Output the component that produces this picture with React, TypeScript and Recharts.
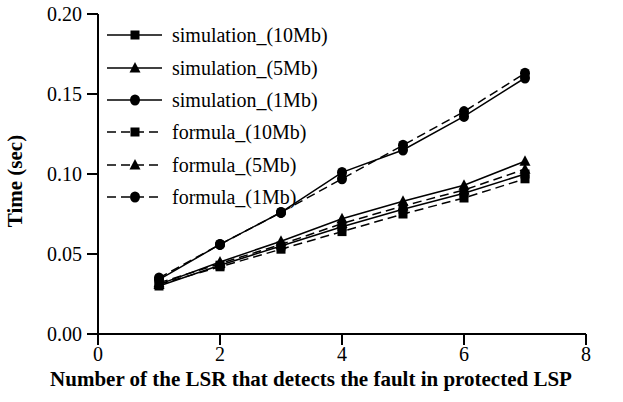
import React from "react";
import { LineChart, Line, XAxis, YAxis } from "recharts";

// x positions: number of the LSR that detects the fault
const lsr = [1, 2, 3, 4, 5, 6, 7];

// detection time (sec)
const sim10 = [0.030, 0.043, 0.055, 0.067, 0.078, 0.088, 0.100];
const sim5 = [0.031, 0.045, 0.058, 0.072, 0.083, 0.093, 0.108];
const sim1 = [0.034, 0.056, 0.076, 0.101, 0.115, 0.136, 0.160];
const form10 = [0.031, 0.042, 0.053, 0.064, 0.075, 0.085, 0.097];
const form5 = [0.032, 0.044, 0.056, 0.069, 0.080, 0.090, 0.103];
const form1 = [0.035, 0.056, 0.076, 0.097, 0.118, 0.139, 0.163];

const xMajor = [0, 2, 4, 6, 8];
const xMinor = [1, 3, 5, 7];
const yMajor = [0, 0.05, 0.1, 0.15, 0.2];
const yMinor = [
  0.01, 0.02, 0.03, 0.04, 0.06, 0.07, 0.08, 0.09,
  0.11, 0.12, 0.13, 0.14, 0.16, 0.17, 0.18, 0.19,
];

type Shape = "square" | "triangle" | "circle";

const series: Array<{ key: string; name: string; values: number[]; shape: Shape; dashed: boolean }> = [
  { key: "sim10", name: "simulation_(10Mb)", values: sim10, shape: "square", dashed: false },
  { key: "sim5", name: "simulation_(5Mb)", values: sim5, shape: "triangle", dashed: false },
  { key: "sim1", name: "simulation_(1Mb)", values: sim1, shape: "circle", dashed: false },
  { key: "form10", name: "formula_(10Mb)", values: form10, shape: "square", dashed: true },
  { key: "form5", name: "formula_(5Mb)", values: form5, shape: "triangle", dashed: true },
  { key: "form1", name: "formula_(1Mb)", values: form1, shape: "circle", dashed: true },
];

const data = lsr.map((x, i) => {
  const row: Record<string, number> = { x };
  series.forEach((s) => (row[s.key] = s.values[i]));
  return row;
});

const FONT = "Liberation Serif";
const DASH = "9 5";
const black2 = { stroke: "#000", strokeWidth: 2 };

function Marker({ shape, cx, cy }: { shape: Shape; cx: number; cy: number }) {
  if (shape === "square") return <rect x={cx - 4.5} y={cy - 4.5} width={9} height={9} fill="#000" />;
  if (shape === "triangle")
    return <polygon points={`${cx},${cy - 6} ${cx - 5.5},${cy + 4.5} ${cx + 5.5},${cy + 4.5}`} fill="#000" />;
  return <ellipse cx={cx} cy={cy} rx={5} ry={5.5} fill="#000" />;
}

const dotFor = (shape: Shape) => (props: any) => {
  const { cx, cy, index } = props;
  return <Marker key={index} shape={shape} cx={cx} cy={cy} />;
};

function LegendBox() {
  return (
    <div style={{ position: "absolute", top: 19, left: 105, fontFamily: FONT, fontSize: 20, color: "#000" }}>
      {series.map((s) => (
        <div key={s.key} style={{ height: 32.4, display: "flex", alignItems: "center" }}>
          <svg width={60} height={20} style={{ display: "block" }}>
            <line x1={2} x2={57} y1={10} y2={10} stroke="#000" strokeWidth={1.5} strokeDasharray={s.dashed ? DASH : undefined} />
            <Marker shape={s.shape} cx={30} cy={10} />
          </svg>
          <span style={{ marginLeft: 7, lineHeight: 1, whiteSpace: "nowrap" }}>{s.name}</span>
        </div>
      ))}
    </div>
  );
}

function Titles() {
  return (
    <svg width={623} height={402} style={{ position: "absolute", top: 0, left: 0, pointerEvents: "none" }}>
      <text x={311} y={386} textAnchor="middle" fontFamily={FONT} fontSize={21} fontWeight="bold" fill="#000">
        Number of the LSR that detects the fault in protected LSP
      </text>
      <text x={22} y={181} transform="rotate(-90, 22, 181)" textAnchor="middle" fontFamily={FONT} fontSize={21} fontWeight="bold" fill="#000">
        Time (sec)
      </text>
    </svg>
  );
}

export default function App() {
  return (
    <div style={{ position: "relative", width: 623, height: 402, background: "#fff" }}>
      <style>{`body{margin:0}`}</style>
      <LineChart width={623} height={402} data={data} margin={{ top: 14, right: 37, bottom: 0, left: 0 }}>
        <XAxis
          dataKey="x"
          type="number"
          domain={[0, 8]}
          ticks={xMajor}
          height={68}
          tickSize={11}
          stroke="#000"
          fontSize={20}
          fontFamily={FONT}
          tickLine={black2}
          axisLine={black2}
        />
        <XAxis
          xAxisId="minor"
          dataKey="x"
          type="number"
          domain={[0, 8]}
          allowDataOverflow
          ticks={xMinor}
          height={0}
          tickSize={6}
          stroke="#000"
          fontSize={1}
          tickFormatter={() => ""}
          tickLine={black2}
          axisLine={false}
        />
        <XAxis
          xAxisId="top"
          orientation="top"
          dataKey="x"
          type="number"
          domain={[0, 8]}
          allowDataOverflow
          height={0}
          tick={false}
          tickLine={false}
          axisLine={black2}
        />
        <YAxis
          type="number"
          domain={[0, 0.2]}
          ticks={yMajor}
          width={98}
          tickSize={11}
          tickMargin={5}
          stroke="#000"
          fontSize={20}
          fontFamily={FONT}
          tickFormatter={(v: number) => v.toFixed(2)}
          tickLine={black2}
          axisLine={black2}
        />
        <YAxis
          yAxisId="minor"
          type="number"
          domain={[0, 0.2]}
          allowDataOverflow
          ticks={yMinor}
          width={0}
          tickSize={6}
          stroke="#000"
          fontSize={1}
          tickFormatter={() => ""}
          tickLine={black2}
          axisLine={false}
        />
        <YAxis
          yAxisId="right"
          orientation="right"
          type="number"
          domain={[0, 0.2]}
          allowDataOverflow
          width={0}
          tick={false}
          tickLine={false}
          axisLine={black2}
        />
        {series.map((s) => (
          <Line
            key={s.key}
            dataKey={s.key}
            name={s.name}
            type="linear"
            stroke="#000"
            strokeWidth={1.5}
            strokeDasharray={s.dashed ? DASH : undefined}
            dot={dotFor(s.shape)}
            activeDot={false}
            isAnimationActive={false}
          />
        ))}
      </LineChart>
      <Titles />
      <LegendBox />
    </div>
  );
}
